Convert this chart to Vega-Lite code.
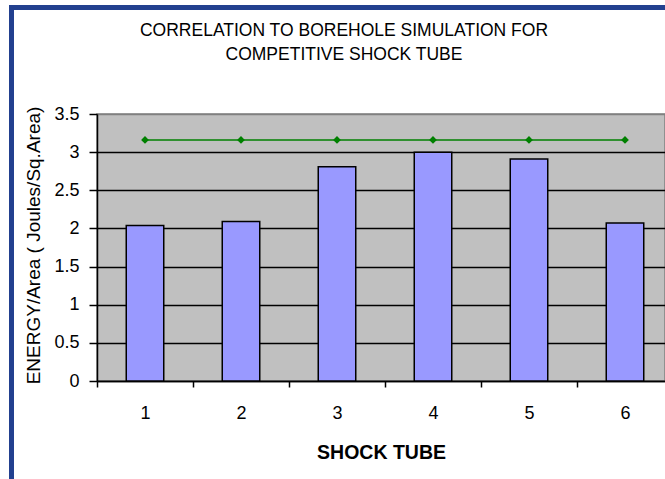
{
  "$schema": "https://vega.github.io/schema/vega-lite/v6.json",
  "width": 568,
  "height": 267,
  "autosize": {"type": "none"},
  "padding": {"left": 97, "top": 114, "right": 0, "bottom": 98},
  "background": "white",
  "title": {
    "text": ["CORRELATION TO BOREHOLE SIMULATION FOR", "COMPETITIVE SHOCK TUBE"],
    "font": "Liberation Sans",
    "fontSize": 17.5,
    "fontWeight": "normal",
    "color": "black",
    "anchor": "middle",
    "dx": -37,
    "offset": 0,
    "dy": 58,
    "lineHeight": 24
  },
  "data": {
    "values": [
      {"tube": 1, "energy": 2.04, "sim": 3.16},
      {"tube": 2, "energy": 2.09, "sim": 3.16},
      {"tube": 3, "energy": 2.81, "sim": 3.16},
      {"tube": 4, "energy": 3.0, "sim": 3.16},
      {"tube": 5, "energy": 2.91, "sim": 3.16},
      {"tube": 6, "energy": 2.07, "sim": 3.16}
    ]
  },
  "layer": [
    {
      "mark": {"type": "bar", "width": 37.5, "color": "#9999FF", "stroke": "black", "strokeWidth": 1.5},
      "encoding": {
        "x": {
          "field": "tube",
          "type": "quantitative",
          "scale": {"domain": [0.5, 6.41667], "nice": false, "zero": false, "padding": 0},
          "axis": {
            "title": "SHOCK TUBE",
            "values": [0.5, 1, 1.5, 2, 2.5, 3, 3.5, 4, 4.5, 5, 5.5, 6],
            "tickCount": 20,
            "format": "~g",
            "labelExpr": "datum.value % 1 === 0 ? datum.label : ''",
            "labelFont": "Liberation Sans",
            "labelFontSize": 18,
            "labelColor": "black",
            "labelPadding": 17,
            "labelFlush": false,
            "labelOverlap": false,
            "tickSize": 6,
            "tickWidth": 1.5,
            "tickColor": {"condition": {"test": "datum.value % 1 === 0", "value": "transparent"}, "value": "black"},
            "domainColor": "black",
            "domainWidth": 1.5,
            "grid": false,
            "titleFont": "Liberation Sans",
            "titleFontSize": 19.5,
            "titleFontWeight": "bold",
            "titleColor": "black",
            "titleY": 71,
            "titleBaseline": "middle"
          }
        },
        "y": {
          "field": "energy",
          "type": "quantitative",
          "scale": {"domain": [0, 3.5], "nice": false},
          "axis": {
            "title": "ENERGY/Area ( Joules/Sq.Area)",
            "values": [0, 0.5, 1, 1.5, 2, 2.5, 3, 3.5],
            "tickCount": 12,
            "format": "~g",
            "labelFont": "Liberation Sans",
            "labelFontSize": 18,
            "labelColor": "black",
            "labelPadding": 10,
            "labelOverlap": false,
            "labelFlush": false,
            "tickSize": 8,
            "tickWidth": 1.5,
            "tickColor": "black",
            "domainColor": "black",
            "domainWidth": 1.5,
            "grid": true,
            "gridColor": {"condition": {"test": "datum.value === 3.5", "value": "#808080"}, "value": "black"},
            "gridWidth": 1.5,
            "titleFont": "Liberation Sans",
            "titleFontSize": 19,
            "titleFontWeight": "normal",
            "titleColor": "black",
            "titleAngle": -90,
            "titleAlign": "center",
            "titleBaseline": "middle",
            "titleX": -64,
            "titleY": 131
          }
        }
      }
    },
    {
      "mark": {
        "type": "line",
        "color": "#008000",
        "strokeWidth": 1.5,
        "point": {"filled": true, "shape": "diamond", "size": 60, "color": "#008000"}
      },
      "encoding": {
        "x": {"field": "tube", "type": "quantitative", "title": "SHOCK TUBE"},
        "y": {"field": "sim", "type": "quantitative", "title": "ENERGY/Area ( Joules/Sq.Area)"}
      }
    },
    {
      "mark": {"type": "rect", "clip": false, "fill": "transparent", "stroke": "#22408F", "strokeWidth": 5},
      "encoding": {
        "x": {"datum": -0.390625, "type": "quantitative", "title": "SHOCK TUBE"},
        "x2": {"datum": 9},
        "y": {"datum": 4.896, "type": "quantitative", "title": "ENERGY/Area ( Joules/Sq.Area)"},
        "y2": {"datum": -3}
      }
    }
  ],
  "config": {
    "view": {"fill": "#C0C0C0", "stroke": "#808080", "strokeWidth": 1.5}
  }
}
